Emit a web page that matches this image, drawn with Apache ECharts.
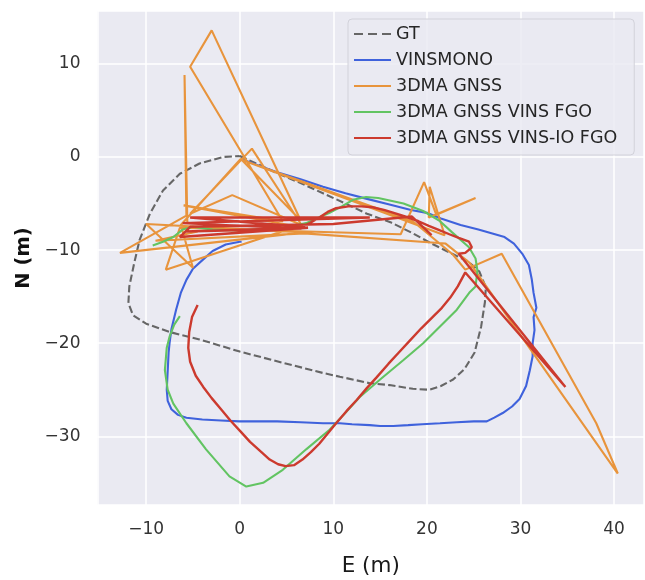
<!DOCTYPE html>
<html>
<head>
<meta charset="utf-8">
<script src="https://cdn.jsdelivr.net/npm/echarts@6/dist/echarts.min.js"></script>
<style>
  html, body { margin: 0; padding: 0; background: #ffffff; }
  #chart { width: 645px; height: 580px; }
</style>
</head>
<body>
<div id="chart"></div>
<script>
// Trajectories in local East/North coordinates (metres), [E, N] pairs.
const seriesNames = ['GT', 'VINSMONO', '3DMA GNSS', '3DMA GNSS VINS FGO', '3DMA GNSS VINS-IO FGO'];
const xTicks = [-10, 0, 10, 20, 30, 40];
const yTicks = [-30, -20, -10, 0, 10];

const gtPath = [
  [0, 0.1], [2, -0.8], [3.9, -1.7], [6.5, -2.8], [8.9, -3.9], [11.3, -5.0], [13.6, -6.1],
  [16.1, -7.0], [18.3, -8.1], [20.5, -9.3], [22.7, -10.4], [24.4, -11.2], [25.6, -12.3],
  [26.3, -14.0], [26.2, -15.6], [25.8, -18.2], [25.1, -21.0], [24.0, -22.8], [22.8, -23.9],
  [21.5, -24.6], [20.3, -25.0], [18.5, -24.9], [16.0, -24.5], [13.9, -24.3], [10.7, -23.6],
  [8.9, -23.2], [4.6, -22.1], [0, -20.9], [-4.3, -19.6], [-7.5, -18.8], [-10.0, -17.9],
  [-11.4, -17.0], [-11.9, -15.7], [-11.8, -13.9], [-11.3, -11.5], [-10.7, -8.9],
  [-9.6, -6.1], [-8.2, -3.6], [-6.4, -1.8], [-4.3, -0.7], [-1.8, 0.0], [0, 0.1]
];

const vinsMonoPath = [
  [0.35, -0.3], [2.0, -0.9], [3.9, -1.6], [6.5, -2.4], [8.9, -3.2], [11.3, -3.9], [13.6, -4.5],
  [16.0, -5.1], [18.3, -5.7], [20.0, -6.0], [21.5, -6.6], [23.6, -7.3], [25.5, -7.8],
  [26.9, -8.2], [28.3, -8.6], [29.3, -9.3], [30.2, -10.4], [30.9, -11.6], [31.2, -13.1],
  [31.4, -14.6], [31.7, -16.2], [31.4, -17.2], [31.5, -18.6], [31.3, -20.0], [31.3, -21.4],
  [31.0, -22.9], [30.6, -24.6], [29.9, -26.0], [29.1, -26.8], [28.1, -27.5], [27.2, -28.0],
  [26.4, -28.4], [25.0, -28.4], [23.2, -28.5], [21.4, -28.6], [19.5, -28.7], [18.0, -28.8],
  [16.4, -28.9], [15.0, -28.9], [13.9, -28.8], [12.0, -28.7], [10.7, -28.6], [8.9, -28.6],
  [6.5, -28.5], [4.0, -28.4], [2.0, -28.4], [0, -28.4], [-2.0, -28.3], [-4.0, -28.2],
  [-5.7, -28.0], [-6.6, -27.7], [-7.3, -27.1], [-7.7, -26.2], [-7.8, -25.0], [-7.7, -23.0],
  [-7.6, -21.0], [-7.5, -20.0], [-7.3, -18.5], [-6.8, -16.4], [-6.3, -14.6], [-5.7, -13.2],
  [-5.0, -12.0], [-3.9, -11.0], [-2.9, -10.1], [-1.5, -9.4], [0.0, -9.1], [0.2, -9.1]
];

const gnssPath = [
  [-5.6, -7.0], [-5.9, 8.8], [-5.7, -6.3], [-12.8, -10.3], [6.9, -8.1], [-10.0, -7.2],
  [-5.0, -11.9], [-6.3, -7.3], [0.1, -0.2], [6.5, -6.8], [-3.0, 13.6], [-5.3, 9.7],
  [4.6, -6.9], [-6.0, -5.2], [6.8, -7.6], [1.3, 0.9], [-5.3, -6.1], [-0.8, -4.1],
  [6.6, -7.3], [-7.9, -12.1], [-6.4, -7.6], [17.2, -8.3], [19.7, -2.7], [21.0, -6.2],
  [25.2, -4.4], [20.2, -6.5], [20.3, -3.2], [21.9, -8.4], [0.2, -0.3], [18.5, -6.9],
  [22.8, -10.5], [24.1, -12.1], [28.0, -10.4], [38.1, -28.6], [40.4, -34.0], [24.6, -11.4],
  [22.0, -9.3], [6.9, -8.2], [-9.0, -9.0], [-4.5, -8.0]
];

const vinsFgoPath = [
  [-9.3, -9.5], [-8.2, -9.1], [-7.1, -8.6], [-6.1, -7.8], [-5.0, -7.5], [-2.9, -7.8],
  [0.0, -7.9], [5.3, -7.5], [7.1, -7.1], [8.2, -6.6], [9.6, -6.0], [10.9, -5.3],
  [12.1, -4.6], [13.5, -4.3], [14.8, -4.4], [17.5, -5.0], [19.6, -5.8], [21.4, -6.9],
  [22.7, -8.1], [24.5, -9.7], [25.2, -10.9], [25.4, -12.2], [25.2, -13.9], [24.6, -14.5],
  [23.2, -16.4], [21.4, -18.2], [19.6, -20.0], [17.5, -21.8], [15.0, -23.9], [12.8, -25.8],
  [11.1, -27.7], [9.6, -29.3], [7.1, -31.4], [4.6, -33.6], [2.5, -35.0], [0.7, -35.4],
  [-1.1, -34.3], [-3.6, -31.4], [-5.7, -28.6], [-7.1, -26.5], [-7.7, -25.0], [-8.0, -22.9],
  [-7.8, -20.5], [-7.5, -19.3], [-7.0, -18.0], [-6.4, -17.1]
];

const vinsIoFgoPath = [
  [-4.5, -15.9], [-5.1, -17.2], [-5.4, -18.8], [-5.5, -20.5], [-5.3, -22.0], [-4.7, -23.5],
  [-3.9, -24.7], [-3.0, -25.9], [-2.0, -27.1], [-1.0, -28.3], [0.1, -29.5], [1.1, -30.6],
  [2.2, -31.6], [3.2, -32.5], [4.1, -33.0], [4.9, -33.2], [5.8, -33.1], [6.7, -32.5],
  [7.6, -31.7], [8.5, -30.8], [9.4, -29.7], [10.3, -28.6], [11.4, -27.3], [12.5, -26.1],
  [13.6, -24.8], [14.6, -23.7], [15.9, -22.2], [17.0, -21.0], [18.2, -19.7], [19.4, -18.4],
  [20.5, -17.3], [21.6, -16.2], [22.5, -15.1], [23.3, -13.9], [24.1, -12.4], [34.8, -24.7],
  [23.4, -10.4], [24.1, -10.3], [24.8, -9.7], [24.5, -9.1], [23.4, -8.7], [22.4, -8.3],
  [21.2, -7.8], [20.2, -7.4], [19.1, -6.9], [18.0, -6.5], [16.8, -6.1], [15.5, -5.7],
  [14.2, -5.4], [13.0, -5.3], [11.6, -5.3], [10.3, -5.5], [9.4, -5.9], [8.5, -6.5],
  [7.5, -7.1], [6.5, -7.5], [-5.3, -6.5], [13.9, -6.5], [-6.1, -7.1], [6.6, -7.7],
  [-5.8, -8.0], [7.3, -7.6], [-6.4, -8.6], [-5.3, -7.5], [10.0, -7.2], [18.4, -6.4],
  [20.5, -8.4]
];

const seriesColors = ['#666666', '#3f62dc', '#e8943c', '#62c462', '#cc3a2e'];
const seriesPaths = [gtPath, vinsMonoPath, gnssPath, vinsFgoPath, vinsIoFgoPath];

// Legend handles: a plain stroke, and a three-dash stroke for the dashed series.
const solidHandle = 'path://M0,0h37v2h-37z';
const dashedHandle = 'path://M0,0h9v2h-9zM14,0h9v2h-9zM28,0h9v2h-9z';

const fmtTick = (list) => (v) => {
  const r = Math.round(v * 1000) / 1000;
  return list.indexOf(r) >= 0 ? String(r).replace('-', '\u2212') : '';
};

const font = 'DejaVu Sans';

const chart = echarts.init(document.getElementById('chart'), null, { renderer: 'canvas' });
chart.setOption({
  animation: false,
  backgroundColor: '#ffffff',
  grid: {
    left: 97.5, right: 1, top: 11, bottom: 75,
    outerBoundsMode: 'none',
    show: true, backgroundColor: '#eaeaf2', borderWidth: 0
  },
  xAxis: {
    type: 'value', min: -15.2, max: 43.2,
    name: 'E (m)', nameLocation: 'middle', nameGap: 50,
    nameTextStyle: { fontFamily: font, fontSize: 21.5, color: '#1a1a1a' },
    axisLine: { show: false }, axisTick: { show: false },
    axisLabel: { fontFamily: font, fontSize: 17, color: '#333333', margin: 16,
                 showMinLabel: false, showMaxLabel: false, formatter: fmtTick(xTicks) },
    splitLine: { show: true, lineStyle: { color: '#ffffff', width: 1.5 } }
  },
  yAxis: {
    type: 'value', min: -37.38, max: 15.68,
    name: 'N (m)', nameLocation: 'middle', nameGap: 62, nameRotate: 90,
    nameTextStyle: { fontFamily: font, fontSize: 19.5, fontWeight: 'bold', color: '#111111' },
    axisLine: { show: false }, axisTick: { show: false },
    axisLabel: { fontFamily: font, fontSize: 17, color: '#333333', margin: 17,
                 showMinLabel: false, showMaxLabel: false, formatter: fmtTick(yTicks) },
    splitLine: { show: true, lineStyle: { color: '#ffffff', width: 1.5 } }
  },
  legend: {
    orient: 'vertical', left: 348, top: 19,
    padding: [6, 17, 8, 6],
    itemWidth: 37, itemHeight: 14, itemGap: 8, itemTextGap: 14,
    symbolKeepAspect: true,
    backgroundColor: 'rgba(234,234,242,0.85)',
    borderColor: '#d2d2da', borderWidth: 1, borderRadius: 4,
    textStyle: { fontFamily: font, fontSize: 17.5, color: '#262626', lineHeight: 18 },
    data: seriesNames.map((name, i) => ({
      name: name,
      icon: i === 0 ? dashedHandle : solidHandle
    }))
  },
  series: seriesNames.map((name, i) => ({
    name: name,
    type: 'line',
    data: seriesPaths[i],
    showSymbol: false,
    symbol: 'none',
    smooth: false,
    clip: true,
    color: seriesColors[i],
    itemStyle: { color: seriesColors[i] },
    lineStyle: {
      color: seriesColors[i],
      width: i === 4 ? 2.4 : 2.1,
      type: i === 0 ? [7.4, 3.2] : 'solid'
    },
    emphasis: { disabled: true }
  }))
});
</script>
</body>
</html>
